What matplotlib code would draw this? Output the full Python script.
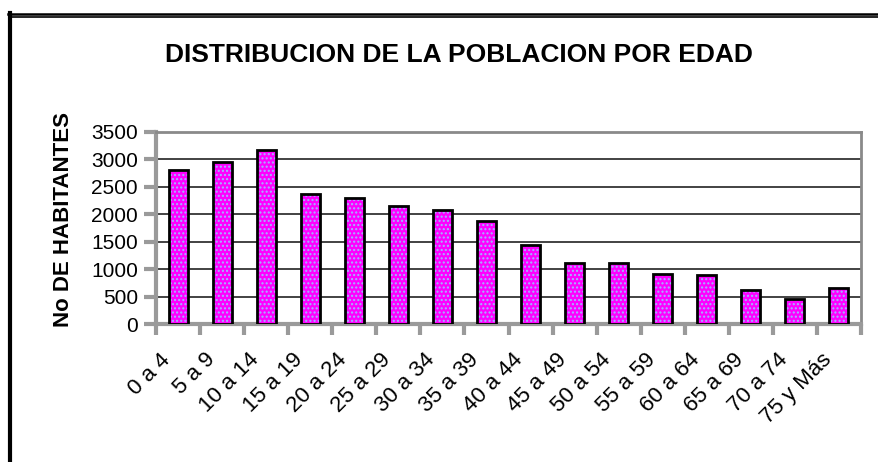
import matplotlib
matplotlib.use('Agg')
import matplotlib.pyplot as plt
from matplotlib.lines import Line2D
from matplotlib.transforms import ScaledTranslation
import numpy as np

plt.rcParams['font.family'] = ['Liberation Sans', 'DejaVu Sans']

grupos = ['0 a 4', '5 a 9', '10 a 14', '15 a 19', '20 a 24', '25 a 29', '30 a 34', '35 a 39',
          '40 a 44', '45 a 49', '50 a 54', '55 a 59', '60 a 64', '65 a 69', '70 a 74', '75 y Más']
habitantes = [2800, 2945, 3165, 2375, 2290, 2155, 2075, 1870,
              1445, 1115, 1115, 905, 900, 625, 455, 665]
yticks = [0, 500, 1000, 1500, 2000, 2500, 3000, 3500]

fig = plt.figure(figsize=(8.79, 4.62), dpi=100)
ax = fig.add_axes([0.1775, 0.2987, 0.802, 0.4156])

x = np.arange(len(grupos))
w = 0.43
# relleno magenta con puntitos celestes, luego el borde negro
ax.bar(x, habitantes, w, color='#ff00ff', edgecolor='#9fb8ff', linewidth=0, hatch='....', zorder=3)
ax.bar(x, habitantes, w, fill=False, edgecolor='black', linewidth=2, zorder=4)

ax.set_xlim(-0.5, len(grupos) - 0.5)
ax.set_ylim(0, 3500)
ax.set_yticks(yticks)
ax.set_yticklabels([str(v) for v in yticks], fontsize=15)
ax.yaxis.grid(True, color='#222222', linewidth=1.2)
ax.set_axisbelow(True)

ax.set_xticks(x)
ax.set_xticklabels(grupos, rotation=45, ha='right', va='top', rotation_mode='anchor', fontsize=16)
ax.tick_params(axis='x', length=0, pad=16)
off = ScaledTranslation(-0.18, -0.03, fig.dpi_scale_trans)
for lab in ax.get_xticklabels():
    lab.set_transform(lab.get_transform() + off)
# ticks menores en los bordes de categoria
ax.set_xticks(np.arange(-0.5, len(grupos)), minor=True)
ax.tick_params(axis='x', which='minor', length=8, width=3, color='#9a9a9a', direction='out')
ax.tick_params(axis='y', length=9, width=3, color='#9a9a9a', direction='out', pad=4)

for s in ['left', 'bottom']:
    ax.spines[s].set_color('#9a9a9a')
    ax.spines[s].set_linewidth(3)
for s in ['top', 'right']:
    ax.spines[s].set_color('#8a8a8a')
    ax.spines[s].set_linewidth(2)

fig.text(0.5216, 0.881, 'DISTRIBUCION DE LA POBLACION POR EDAD', ha='center', va='center',
         fontsize=19, fontweight='bold')
fig.text(0.0728, 0.524, 'No DE HABITANTES', ha='center', va='center', rotation=90,
         fontsize=16, fontweight='bold')

# marco exterior
H = 462.0
fig.add_artist(Line2D([8 / 879, 1], [1 - 13.5 / H, 1 - 13.5 / H], color='black', linewidth=1.8))
fig.add_artist(Line2D([12 / 879, 1], [1 - 16.5 / H, 1 - 16.5 / H], color='black', linewidth=1.2))
fig.add_artist(Line2D([10 / 879, 10 / 879], [0, 1 - 13 / H], color='black', linewidth=3))

fig.savefig('out.png', dpi=100, facecolor='white')
